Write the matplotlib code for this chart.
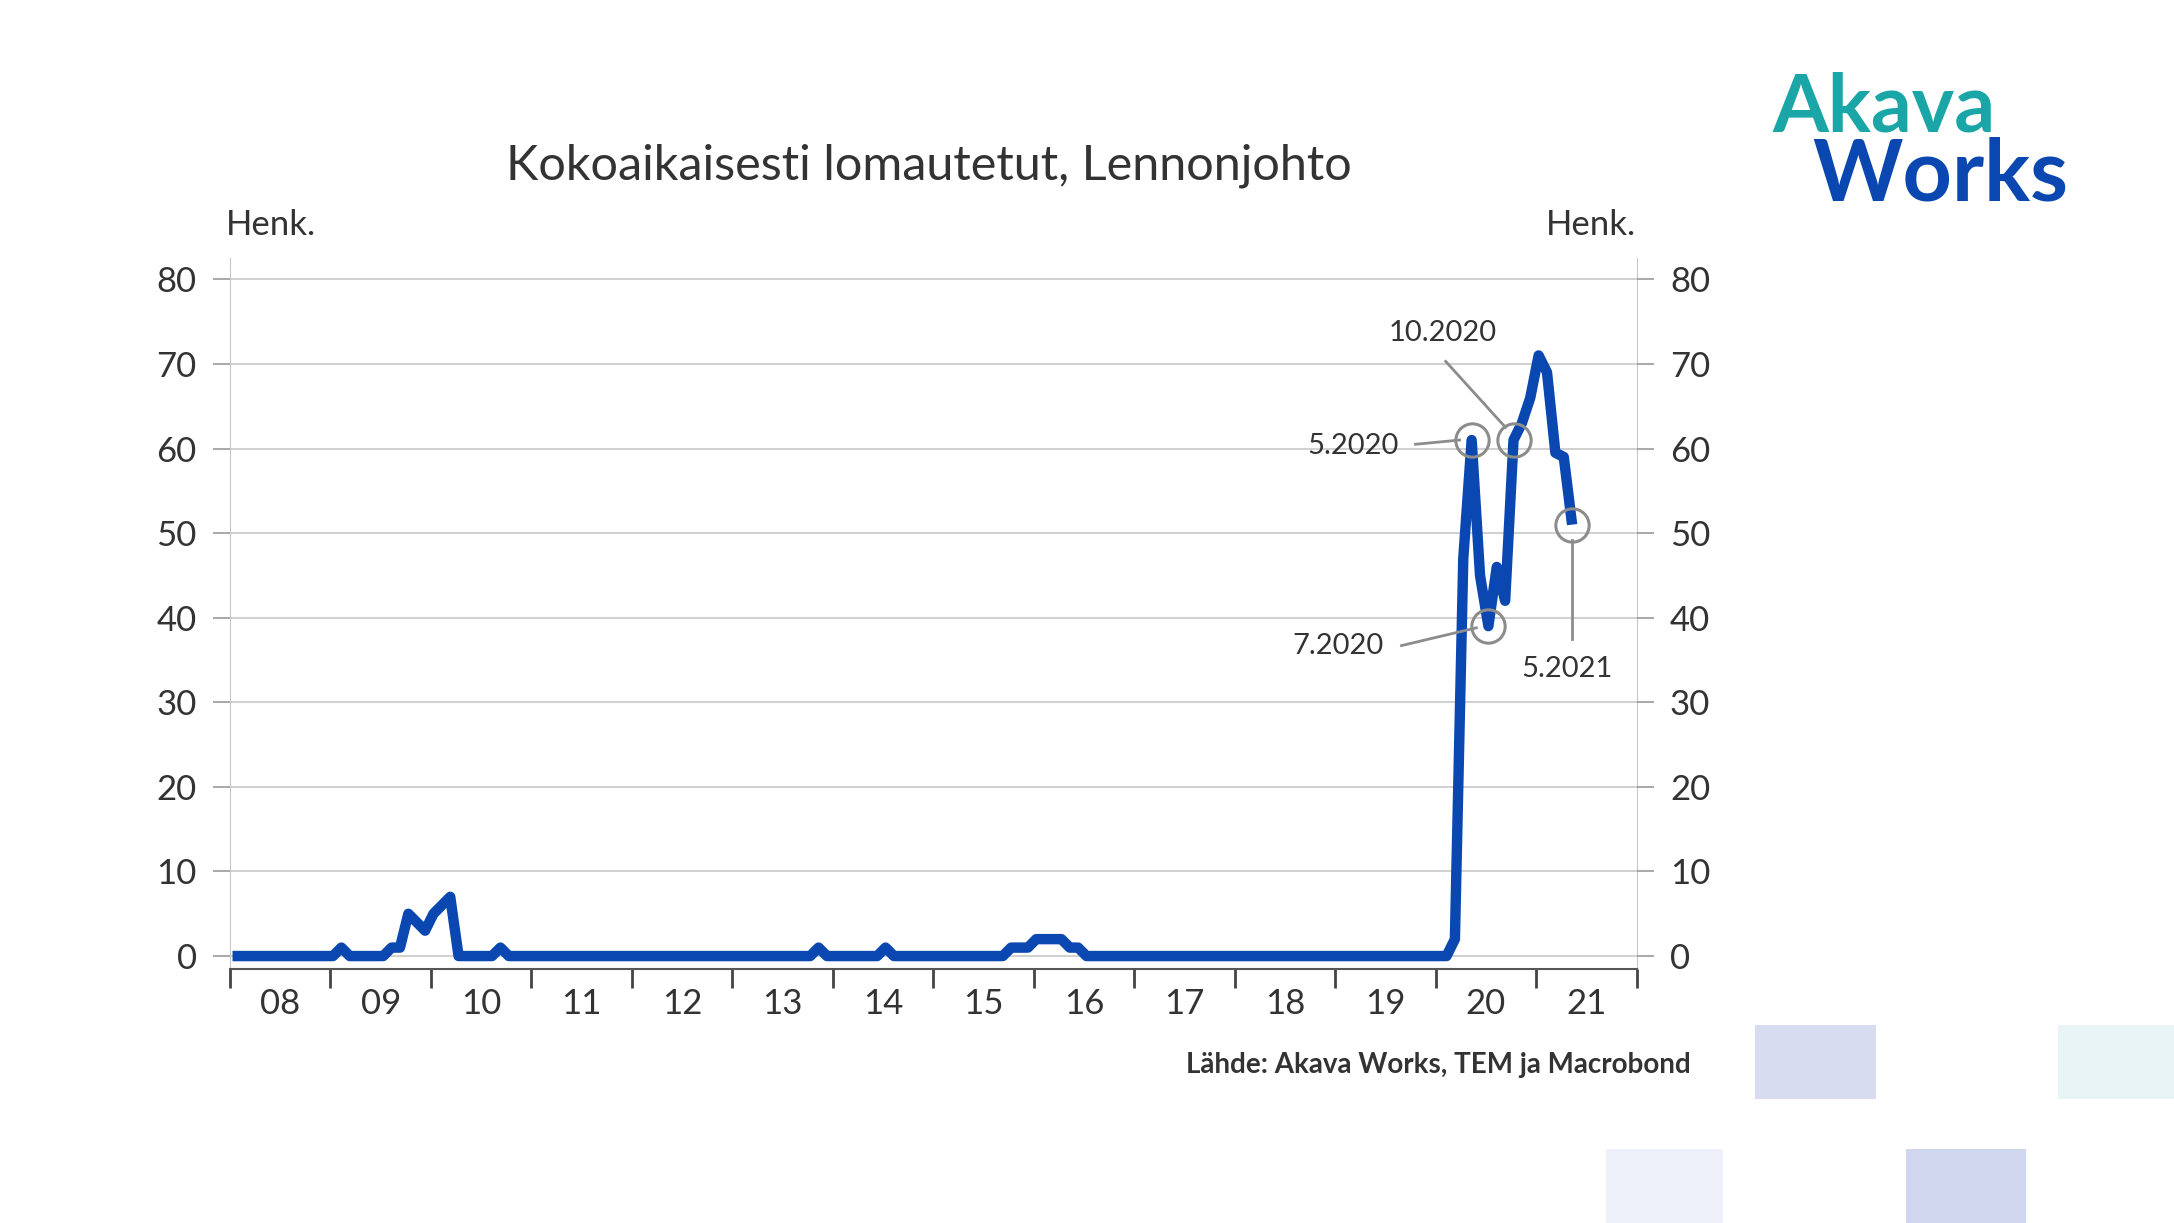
import matplotlib.pyplot as plt
from matplotlib.patches import Rectangle
import numpy as np

plt.rcParams['font.family'] = 'Lato'

# monthly values, Jan 2008 .. May 2021
y2008 = [0, 0, 0, 0, 0, 0, 0, 0, 0, 0, 0, 0]
y2009 = [0, 1, 0, 0, 0, 0, 0, 1, 1, 5, 4, 3]
y2010 = [5, 6, 7, 0, 0, 0, 0, 0, 1, 0, 0, 0]
y2011 = [0, 0, 0, 0, 0, 0, 0, 0, 0, 0, 0, 0]
y2012 = [0, 0, 0, 0, 0, 0, 0, 0, 0, 0, 0, 0]
y2013 = [0, 0, 0, 0, 0, 0, 0, 0, 0, 0, 1, 0]
y2014 = [0, 0, 0, 0, 0, 0, 1, 0, 0, 0, 0, 0]
y2015 = [0, 0, 0, 0, 0, 0, 0, 0, 0, 1, 1, 1]
y2016 = [2, 2, 2, 2, 1, 1, 0, 0, 0, 0, 0, 0]
y2017 = [0, 0, 0, 0, 0, 0, 0, 0, 0, 0, 0, 0]
y2018 = [0, 0, 0, 0, 0, 0, 0, 0, 0, 0, 0, 0]
y2019 = [0, 0, 0, 0, 0, 0, 0, 0, 0, 0, 0, 0]
y2020 = [0, 0, 2, 47, 61, 45, 39, 46, 42, 61, 63, 66]
y2021 = [71, 69, 59.5, 59, 51]
values = y2008 + y2009 + y2010 + y2011 + y2012 + y2013 + y2014 + y2015 + y2016 + y2017 + y2018 + y2019 + y2020 + y2021
years = list(range(2008, 2022))
year_labels = ['08', '09', '10', '11', '12', '13', '14', '15', '16', '17', '18', '19', '20', '21']

# highlighted months (index in values) and labels
marked_idx = [148, 150, 153, 160]
marked_labels = ['5.2020', '7.2020', '10.2020', '5.2021']

x = 2008 + (np.arange(len(values)) + 0.3) / 12

fig = plt.figure(figsize=(21.74, 12.23), dpi=100)
ax = fig.add_axes([0.1058, 0.2079, 0.647, 0.581])
ax.plot(x, values, color='#0a47b0', lw=7.5, solid_joinstyle='round', solid_capstyle='butt')

ax.set_xlim(2008, 2022)
ax.set_ylim(-1.5, 82.5)
yt = np.arange(0, 81, 10)
ax.set_yticks(yt)
ax.grid(axis='y', color='#c8c8c8', lw=1.2)
ax.set_axisbelow(True)
ax.set_xticks(years + [2022])
ax.set_xticklabels([])
ax.set_xticks(np.array(years) + 0.5, minor=True)
ax.set_xticklabels(year_labels, minor=True, fontsize=25, color='#333333')
ax.tick_params(axis='x', which='major', length=14, width=2, color='#444444', direction='out')
ax.tick_params(axis='x', which='minor', length=0, pad=14)
ax.tick_params(axis='y', length=12, width=1.2, color='#999999', labelsize=25, labelcolor='#333333', pad=12)
for s in ['left', 'right', 'top']:
    ax.spines[s].set_color('#c8c8c8')
ax.spines['top'].set_visible(False)
ax.spines['bottom'].set_color('#555555')
ax.spines['bottom'].set_linewidth(1.5)

ax2 = ax.twinx()
ax2.set_ylim(ax.get_ylim())
ax2.set_yticks(yt)
ax2.tick_params(axis='y', length=12, width=1.2, color='#999999', labelsize=25, labelcolor='#333333', pad=12)
for s in ['left', 'right', 'top', 'bottom']:
    ax2.spines[s].set_visible(False)

# annotations
mx = x[marked_idx]
my = [values[i] for i in marked_idx]
ax.plot(mx, my, 'o', ms=24, mfc='none', mec='#8c8c8c', mew=2.2, zorder=5)
gray = '#8c8c8c'
ax.plot([2019.80, mx[0] - 0.12], [60.5, 61], color=gray, lw=2)
ax.text(2019.63, 60.3, marked_labels[0], ha='right', va='center', fontsize=21, color='#333333')
ax.plot([2019.66, mx[1] - 0.12], [36.7, 38.8], color=gray, lw=2)
ax.text(2019.48, 36.6, marked_labels[1], ha='right', va='center', fontsize=21, color='#333333')
ax.plot([2020.1, mx[2] - 0.08], [70.3, 62.5], color=gray, lw=2)
ax.text(2020.07, 73.6, marked_labels[2], ha='center', va='center', fontsize=21, color='#333333')
ax.plot([mx[3], mx[3]], [37.5, my[3] - 1.8], color=gray, lw=2)
ax.text(2021.31, 33.9, marked_labels[3], ha='center', va='center', fontsize=21, color='#333333')

W, H = 2174, 1223
fig.text(929 / W, 1 - 166 / H, 'Kokoaikaisesti lomautetut, Lennonjohto', ha='center', va='center',
         fontsize=35, color='#333333')
fig.text(226 / W, 1 - 225 / H, 'Henk.', ha='left', va='center', fontsize=25, color='#333333')
fig.text(1636 / W, 1 - 225 / H, 'Henk.', ha='right', va='center', fontsize=25, color='#333333')
fig.text(1691 / W, 1 - 1065 / H, 'Lähde: Akava Works, TEM ja Macrobond', ha='right', va='center',
         fontsize=20, fontweight='bold', color='#333333')

# logo
fig.text(1772 / W, 1 - 108 / H, 'Akava', ha='left', va='center', fontsize=58, fontweight='bold',
         color='#1aa6a6')
fig.text(1812 / W, 1 - 176 / H, 'Works', ha='left', va='center', fontsize=62, fontweight='bold',
         color='#0a47b0')

# decorative squares (display coords scaled)
k = W / 1568
for (x0, y0, x1, y1, c) in [(1266, 739, 1353, 793, '#d7dcf0'), (1484, 739, 1568, 793, '#e8f4f6'),
                            (1158, 829, 1243, 882, '#eef1fa'), (1375, 829, 1461, 882, '#d0d6ee')]:
    fig.add_artist(Rectangle((x0 * k / W, 1 - y1 * k / H), (x1 - x0) * k / W, (y1 - y0) * k / H,
                             transform=fig.transFigure, color=c, lw=0))

fig.savefig('out.png', dpi=100)
